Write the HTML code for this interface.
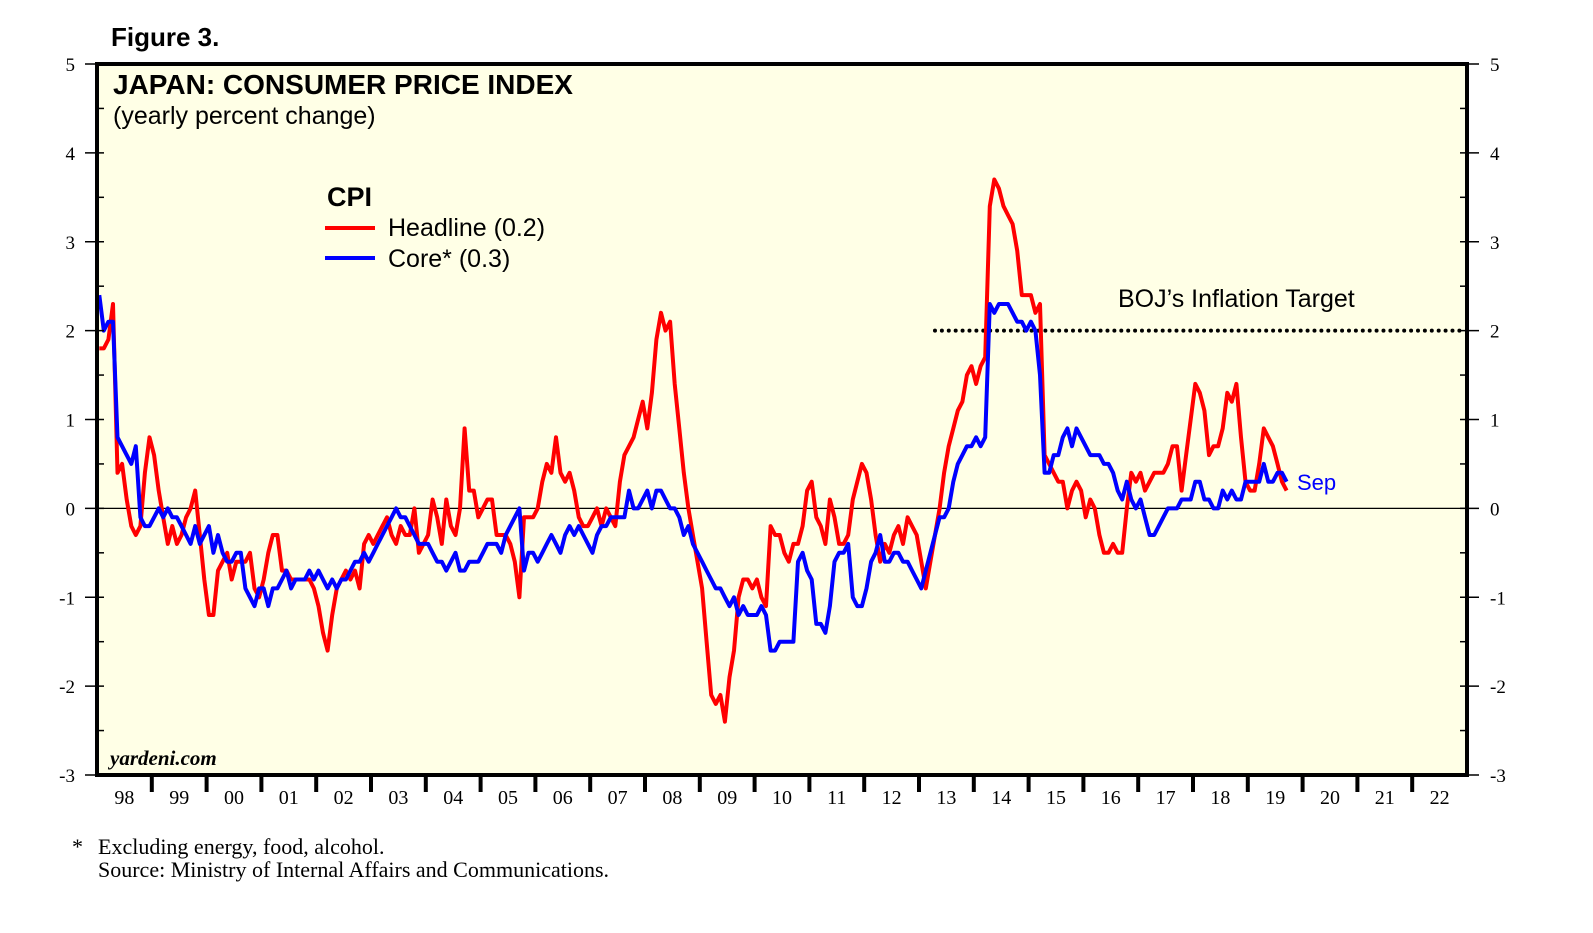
<!DOCTYPE html>
<html><head><meta charset="utf-8"><style>
body{margin:0;background:#fff;width:1593px;height:928px;overflow:hidden;font-family:"Liberation Sans",Arial,sans-serif}
</style></head><body>
<svg id="chart" width="1593" height="928" xmlns="http://www.w3.org/2000/svg">
<text x="111" y="46" font-size="26" font-weight="bold" font-family="Liberation Sans, sans-serif">Figure 3.</text>
<rect x="97" y="64" width="1370" height="711" fill="#ffffe6"/>
<g id="grid"></g>
<g id="series"></g>
<rect x="97" y="64" width="1370" height="711" fill="none" stroke="#000" stroke-width="4"/>
<text x="113" y="94" font-size="28" font-weight="bold">JAPAN: CONSUMER PRICE INDEX</text>
<text x="113" y="124" font-size="25">(yearly percent change)</text>
<text x="327" y="206" font-size="27" font-weight="bold">CPI</text>
<line x1="325" y1="228" x2="375" y2="228" stroke="#f00" stroke-width="4"/>
<text x="388" y="236" font-size="25">Headline (0.2)</text>
<line x1="325" y1="258" x2="375" y2="258" stroke="#00f" stroke-width="4"/>
<text x="388" y="267" font-size="25">Core* (0.3)</text>
<text x="1118" y="307" font-size="25">BOJ’s Inflation Target</text>
<text x="1297" y="490" font-size="22" fill="#00f">Sep</text>
<text x="110" y="765" font-size="21" font-weight="bold" font-style="italic" font-family="Liberation Serif, serif">yardeni.com</text>
<text x="72" y="854" font-size="22" font-family="Liberation Serif, serif">*</text>
<text x="98" y="854" font-size="22" font-family="Liberation Serif, serif">Excluding energy, food, alcohol.</text>
<text x="98" y="877" font-size="22" font-family="Liberation Serif, serif">Source: Ministry of Internal Affairs and Communications.</text>
</svg>
<script>
const yTicks=[-3,-2,-1,0,1,2,3,4,5];
const yearLabels=["98","99","00","01","02","03","04","05","06","07","08","09","10","11","12","13","14","15","16","17","18","19","20","21","22"];
const startYear=1998;
const targetValue=2;
const targetStart=[2013,3];
const headline=[
1.8,1.8,1.9,2.3,0.4,0.5,0.1,-0.2,-0.3,-0.2,0.4,0.8,
0.6,0.2,-0.1,-0.4,-0.2,-0.4,-0.3,-0.1,0.0,0.2,-0.3,-0.8,
-1.2,-1.2,-0.7,-0.6,-0.5,-0.8,-0.6,-0.6,-0.6,-0.5,-0.9,-1.0,
-0.8,-0.5,-0.3,-0.3,-0.7,-0.7,-0.8,-0.8,-0.8,-0.8,-0.8,-0.9,
-1.1,-1.4,-1.6,-1.2,-0.9,-0.8,-0.7,-0.8,-0.7,-0.9,-0.4,-0.3,
-0.4,-0.3,-0.2,-0.1,-0.3,-0.4,-0.2,-0.3,-0.3,0.0,-0.5,-0.4,
-0.3,0.1,-0.1,-0.4,0.1,-0.2,-0.3,0.0,0.9,0.2,0.2,-0.1,
0.0,0.1,0.1,-0.3,-0.3,-0.3,-0.4,-0.6,-1.0,-0.1,-0.1,-0.1,
0.0,0.3,0.5,0.4,0.8,0.4,0.3,0.4,0.2,-0.1,-0.2,-0.2,
-0.1,0.0,-0.2,0.0,-0.1,-0.2,0.3,0.6,0.7,0.8,1.0,1.2,
0.9,1.3,1.9,2.2,2.0,2.1,1.4,0.9,0.4,0.0,-0.3,-0.6,
-0.9,-1.5,-2.1,-2.2,-2.1,-2.4,-1.9,-1.6,-1.0,-0.8,-0.8,-0.9,
-0.8,-1.0,-1.1,-0.2,-0.3,-0.3,-0.5,-0.6,-0.4,-0.4,-0.2,0.2,
0.3,-0.1,-0.2,-0.4,0.1,-0.1,-0.4,-0.4,-0.3,0.1,0.3,0.5,
0.4,0.1,-0.3,-0.6,-0.4,-0.5,-0.3,-0.2,-0.4,-0.1,-0.2,-0.3,
-0.6,-0.9,-0.6,-0.3,0.0,0.4,0.7,0.9,1.1,1.2,1.5,1.6,
1.4,1.6,1.7,3.4,3.7,3.6,3.4,3.3,3.2,2.9,2.4,2.4,
2.4,2.2,2.3,0.6,0.5,0.4,0.3,0.3,0.0,0.2,0.3,0.2,
-0.1,0.1,0.0,-0.3,-0.5,-0.5,-0.4,-0.5,-0.5,0.0,0.4,0.3,
0.4,0.2,0.3,0.4,0.4,0.4,0.5,0.7,0.7,0.2,0.6,1.0,
1.4,1.3,1.1,0.6,0.7,0.7,0.9,1.3,1.2,1.4,0.8,0.3,
0.2,0.2,0.5,0.9,0.8,0.7,0.5,0.3,0.2];
const core=[
2.4,2.0,2.1,2.1,0.8,0.7,0.6,0.5,0.7,-0.1,-0.2,-0.2,
-0.1,0.0,-0.1,0.0,-0.1,-0.1,-0.2,-0.3,-0.4,-0.2,-0.4,-0.3,
-0.2,-0.5,-0.3,-0.5,-0.6,-0.6,-0.5,-0.5,-0.9,-1.0,-1.1,-0.9,
-0.9,-1.1,-0.9,-0.9,-0.8,-0.7,-0.9,-0.8,-0.8,-0.8,-0.7,-0.8,
-0.7,-0.8,-0.9,-0.8,-0.9,-0.8,-0.8,-0.7,-0.6,-0.6,-0.5,-0.6,
-0.5,-0.4,-0.3,-0.2,-0.1,0.0,-0.1,-0.1,-0.2,-0.3,-0.4,-0.4,
-0.4,-0.5,-0.6,-0.6,-0.7,-0.6,-0.5,-0.7,-0.7,-0.6,-0.6,-0.6,
-0.5,-0.4,-0.4,-0.4,-0.5,-0.3,-0.2,-0.1,0.0,-0.7,-0.5,-0.5,
-0.6,-0.5,-0.4,-0.3,-0.4,-0.5,-0.3,-0.2,-0.3,-0.2,-0.3,-0.4,
-0.5,-0.3,-0.2,-0.2,-0.1,-0.1,-0.1,-0.1,0.2,0.0,0.0,0.1,
0.2,0.0,0.2,0.2,0.1,0.0,0.0,-0.1,-0.3,-0.2,-0.4,-0.5,
-0.6,-0.7,-0.8,-0.9,-0.9,-1.0,-1.1,-1.0,-1.2,-1.1,-1.2,-1.2,
-1.2,-1.1,-1.2,-1.6,-1.6,-1.5,-1.5,-1.5,-1.5,-0.6,-0.5,-0.7,
-0.8,-1.3,-1.3,-1.4,-1.1,-0.6,-0.5,-0.5,-0.4,-1.0,-1.1,-1.1,
-0.9,-0.6,-0.5,-0.3,-0.6,-0.6,-0.5,-0.5,-0.6,-0.6,-0.7,-0.8,
-0.9,-0.7,-0.5,-0.3,-0.1,-0.1,0.0,0.3,0.5,0.6,0.7,0.7,
0.8,0.7,0.8,2.3,2.2,2.3,2.3,2.3,2.2,2.1,2.1,2.0,
2.1,2.0,1.5,0.4,0.4,0.6,0.6,0.8,0.9,0.7,0.9,0.8,
0.7,0.6,0.6,0.6,0.5,0.5,0.4,0.2,0.1,0.3,0.1,0.0,
0.1,-0.1,-0.3,-0.3,-0.2,-0.1,0.0,0.0,0.0,0.1,0.1,0.1,
0.3,0.3,0.1,0.1,0.0,0.0,0.2,0.1,0.2,0.1,0.1,0.3,
0.3,0.3,0.3,0.5,0.3,0.3,0.4,0.4,0.3];

const NS="http://www.w3.org/2000/svg";
const L=97,R=1467,T=64,B=775,yMin=-3,yMax=5;
const yearW=(R-L)/yearLabels.length;
const ys=v=>B-(v-yMin)/(yMax-yMin)*(B-T);
const xm=i=>L+(i+0.5)*yearW/12;
const grid=document.getElementById('grid'),ser=document.getElementById('series'),svg=document.getElementById('chart');
function mk(tag,attrs,parent){const e=document.createElementNS(NS,tag);for(const k in attrs)e.setAttribute(k,attrs[k]);parent.appendChild(e);return e;}

yTicks.forEach(v=>{
  const y=ys(v);
  const tl=mk('line',{x1:85,y1:y,x2:97,y2:y,stroke:'#000','stroke-width':1.5},svg);
  
  
  const tr=mk('line',{x1:1467,y1:y,x2:1479,y2:y,stroke:'#000','stroke-width':1.5},svg);
  
  
  const a=mk('text',{x:75,y:y+7,'font-size':19,'text-anchor':'end','font-family':'Liberation Serif, serif'},svg);a.textContent=v;
  
  
  const b=mk('text',{x:1490,y:y+7,'font-size':19,'font-family':'Liberation Serif, serif'},svg);b.textContent=v;
  
  
});
for(let v=yMin+0.5;v<yMax;v+=0.5){
  const y=ys(v);
  const m1=mk('line',{x1:97,y1:y,x2:104,y2:y,stroke:'#000','stroke-width':1.5},svg);
  
  
  const m2=mk('line',{x1:1460,y1:y,x2:1467,y2:y,stroke:'#000','stroke-width':1.5},svg);
  
  
}
const zl=mk('line',{x1:L,y1:ys(0),x2:R,y2:ys(0),stroke:'#000','stroke-width':1.2},grid);


yearLabels.forEach((lab,i)=>{
  const x0=L+i*yearW;
  if(i>0){const t=mk('line',{x1:x0,y1:B,x2:x0,y2:B+17,stroke:'#000','stroke-width':4},svg);
  
  }
  const tx=mk('text',{x:x0+yearW/2,y:B+29,'font-size':20,'text-anchor':'middle','font-family':'Liberation Serif, serif'},svg);tx.textContent=lab;
  
  
});
const ti=(targetStart[0]-startYear)*12+targetStart[1];
const tg=mk('line',{x1:xm(ti),y1:ys(targetValue),x2:R-3,y2:ys(targetValue),stroke:'#000','stroke-width':4,'stroke-dasharray':'0 6.9','stroke-linecap':'round'},grid);


function path(arr,color,name){
  const d=arr.map((v,i)=>(i?'L':'M')+xm(i).toFixed(1)+','+ys(v).toFixed(1)).join('');
  const p=mk('path',{d:d,fill:'none',stroke:color,'stroke-width':4,'stroke-linejoin':'round'},ser);
  
  
}
path(headline,'#f00','headline-line');
path(core,'#00f','core-line');
</script>
</body></html>
